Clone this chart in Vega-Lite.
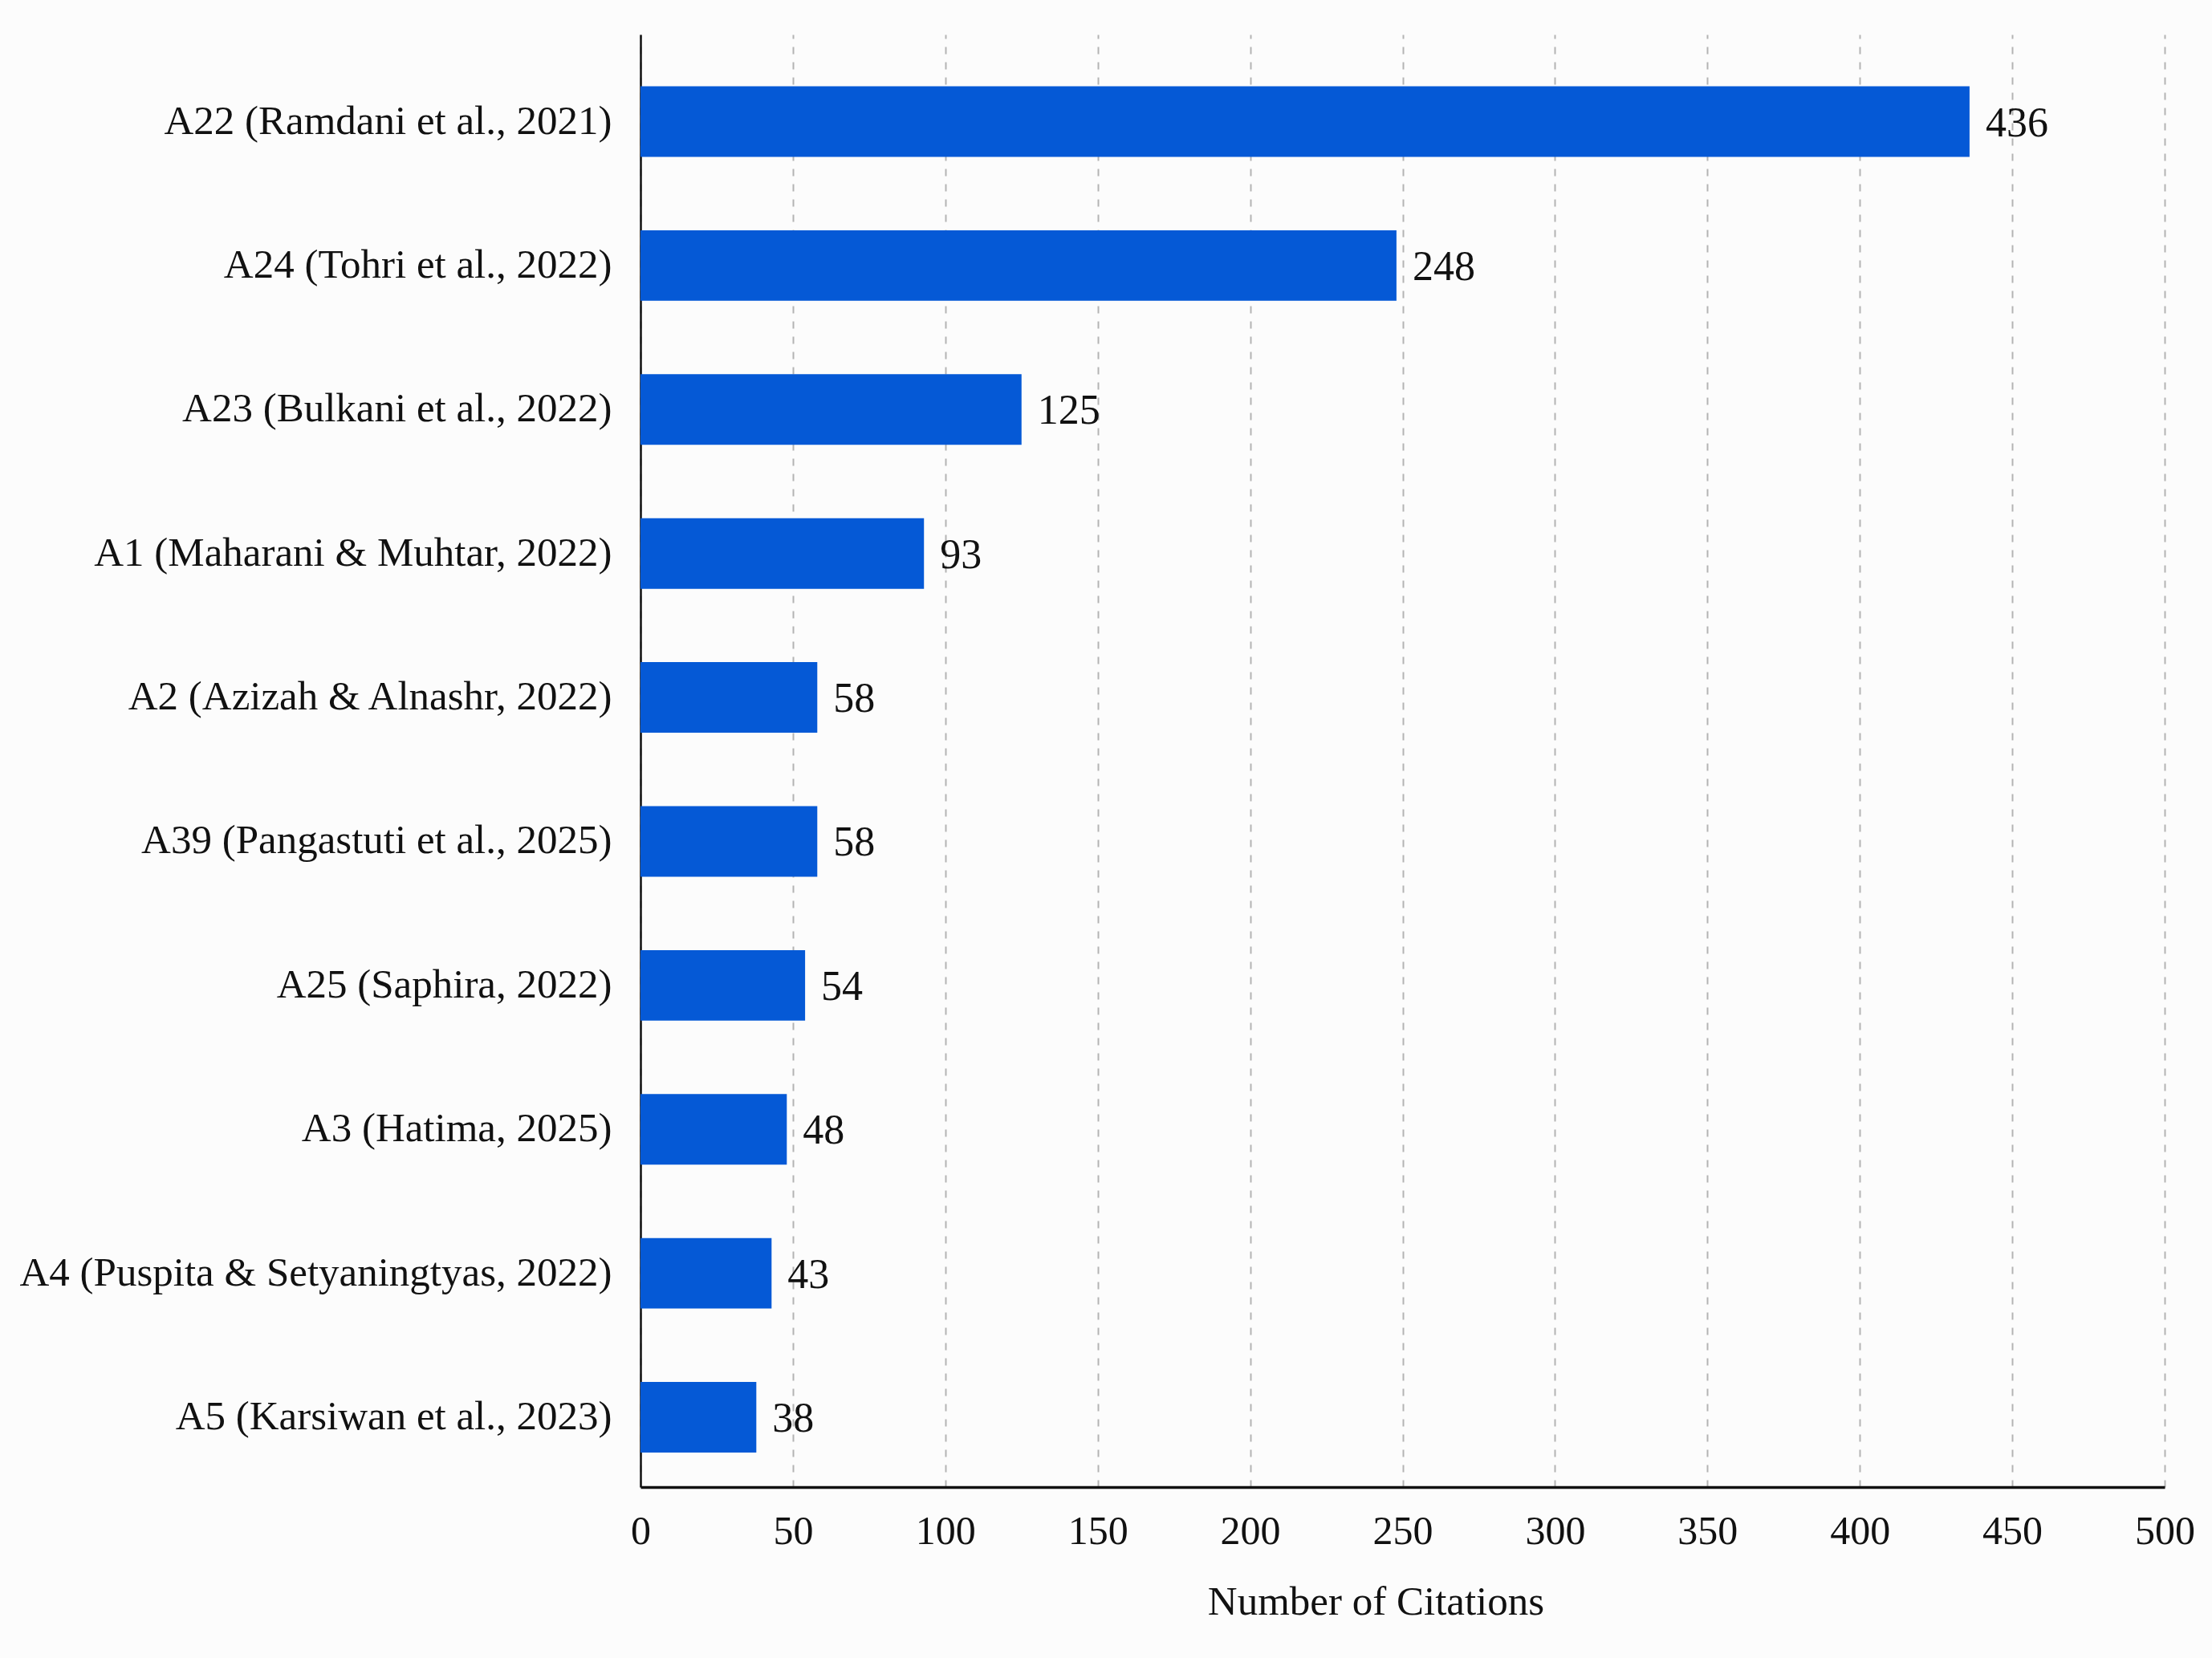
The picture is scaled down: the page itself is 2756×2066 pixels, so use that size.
{
  "$schema": "https://vega.github.io/schema/vega-lite/v6.json",
  "autosize": {"type": "none"},
  "padding": {"left": 798, "top": 43, "right": 59, "bottom": 213},
  "width": 1899,
  "height": 1810,
  "background": "#fcfcfc",
  "data": {
    "values": [
      {"study": "A22 (Ramdani et al., 2021)", "citations": 436},
      {"study": "A24 (Tohri et al., 2022)", "citations": 248},
      {"study": "A23 (Bulkani et al., 2022)", "citations": 125},
      {"study": "A1 (Maharani & Muhtar, 2022)", "citations": 93},
      {"study": "A2 (Azizah & Alnashr, 2022)", "citations": 58},
      {"study": "A39 (Pangastuti et al., 2025)", "citations": 58},
      {"study": "A25 (Saphira, 2022)", "citations": 54},
      {"study": "A3 (Hatima, 2025)", "citations": 48},
      {"study": "A4 (Puspita & Setyaningtyas, 2022)", "citations": 43},
      {"study": "A5 (Karsiwan et al., 2023)", "citations": 38}
    ]
  },
  "encoding": {
    "y": {
      "field": "study",
      "type": "nominal",
      "sort": null,
      "title": null,
      "scale": {"paddingInner": 0.51, "paddingOuter": 0.3, "align": 0.6},
      "axis": {
        "ticks": false,
        "labelPadding": 36,
        "labelFontSize": 51,
        "labelFont": "Liberation Serif",
        "labelColor": "#111111",
        "labelLimit": 1000,
        "domainColor": "#111111",
        "domainWidth": 2.5
      }
    },
    "x": {
      "field": "citations",
      "type": "quantitative",
      "title": "Number of Citations",
      "scale": {"domain": [0, 500], "nice": false},
      "axis": {
        "values": [0, 50, 100, 150, 200, 250, 300, 350, 400, 450, 500],
        "ticks": false,
        "labelFlush": false,
        "labelPadding": 30,
        "labelFontSize": 50,
        "labelFont": "Liberation Serif",
        "labelColor": "#111111",
        "titleFont": "Liberation Serif",
        "titleFontSize": 51,
        "titleFontWeight": "normal",
        "titleColor": "#111111",
        "titlePadding": 38,
        "titleX": 916,
        "titleAlign": "center",
        "domainColor": "#111111",
        "domainWidth": 3.5,
        "grid": true,
        "gridColor": "#b3b3b3",
        "gridDash": [9, 10],
        "gridWidth": 2
      }
    }
  },
  "layer": [
    {"mark": {"type": "bar", "color": "#0559D6"}},
    {
      "mark": {
        "type": "text",
        "align": "left",
        "baseline": "middle",
        "dx": 20,
        "dy": 2,
        "font": "Liberation Serif",
        "fontSize": 52,
        "color": "#111111"
      },
      "encoding": {"text": {"field": "citations", "type": "quantitative"}}
    }
  ],
  "config": {
    "view": {"stroke": null}
  }
}
